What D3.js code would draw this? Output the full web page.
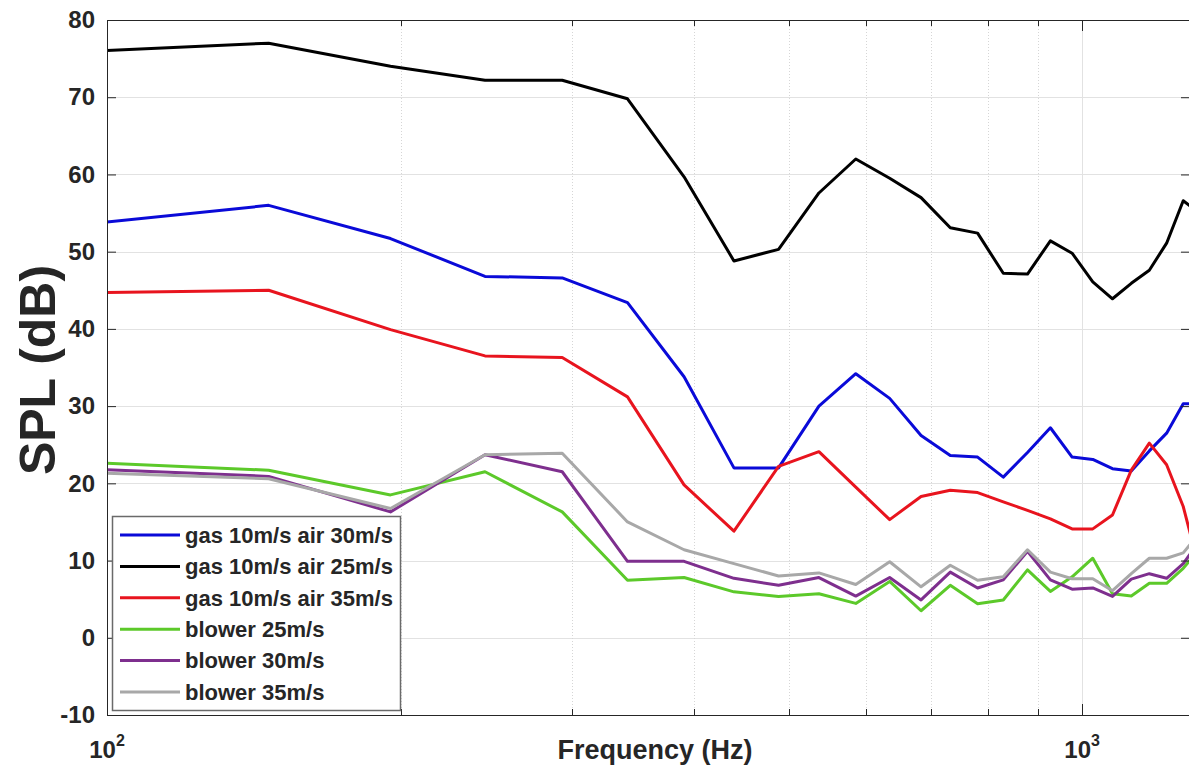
<!DOCTYPE html>
<html>
<head>
<meta charset="utf-8">
<script src="https://cdn.jsdelivr.net/npm/d3@7"></script>
<style>
  body { margin: 0; background: #fff; }
  text { font-family: "Liberation Sans", Arial, sans-serif; font-weight: bold; fill: #262626; }
</style>
</head>
<body>
<script>
// FFT bin centre frequencies (Hz)
const freqs = [97.66, 146.48, 195.31, 244.14, 292.97, 341.80, 390.63, 439.45, 488.28, 537.11,
  585.94, 634.77, 683.59, 732.42, 781.25, 830.08, 878.91, 927.73, 976.56, 1025.39,
  1074.22, 1123.05, 1171.88, 1220.70, 1269.53, 1318.36];

const gasAir30 = [53.7, 56.0, 51.7, 46.8, 46.6, 43.4, 33.8, 22.0, 22.0, 30.0,
  34.2, 31.0, 26.2, 23.6, 23.4, 20.8, 24.0, 27.2, 23.4, 23.1,
  21.9, 21.6, 24.2, 26.5, 30.3, 30.3];
const gasAir25 = [76.0, 77.0, 74.0, 72.2, 72.2, 69.8, 59.7, 48.8, 50.3, 57.6,
  62.0, 59.5, 57.0, 53.1, 52.4, 47.2, 47.1, 51.4, 49.8, 46.1,
  43.9, 45.9, 47.6, 51.1, 56.6, 55.0];
const gasAir35 = [44.7, 45.0, 39.9, 36.5, 36.3, 31.2, 19.8, 13.8, 22.2, 24.1,
  19.5, 15.3, 18.3, 19.1, 18.8, 17.6, 16.5, 15.4, 14.1, 14.1,
  15.9, 21.7, 25.2, 22.4, 17.0, 9.0];
const blower25 = [22.65, 21.7, 18.5, 21.5, 16.3, 7.45, 7.8, 5.95, 5.35, 5.7,
  4.45, 7.3, 3.5, 6.8, 4.4, 4.9, 8.8, 6.0, 7.9, 10.3,
  5.7, 5.4, 7.05, 7.05, 9.0, 11.5];
const blower30 = [21.8, 20.9, 16.3, 23.7, 21.5, 9.9, 9.9, 7.7, 6.8, 7.8,
  5.4, 7.8, 4.9, 8.5, 6.45, 7.5, 11.2, 7.5, 6.3, 6.45,
  5.35, 7.6, 8.3, 7.7, 9.6, 12.5];
const blower35 = [21.35, 20.6, 16.75, 23.7, 23.9, 15.0, 11.4, 9.6, 8.0, 8.4,
  6.9, 9.85, 6.6, 9.4, 7.45, 7.9, 11.4, 8.5, 7.65, 7.65,
  6.1, 8.3, 10.3, 10.3, 11.0, 13.5];

const seriesNames = ["gas 10m/s air 30m/s", "gas 10m/s air 25m/s", "gas 10m/s air 35m/s",
  "blower 25m/s", "blower 30m/s", "blower 35m/s"];
const seriesColors = ["#0a0ad8", "#000000", "#e8141e", "#5cc92a", "#7e2f8e", "#a8a8a8"];
const seriesValues = [gasAir30, gasAir25, gasAir35, blower25, blower30, blower35];

const yTicks = [-10, 0, 10, 20, 30, 40, 50, 60, 70, 80];
const xMinorTicks = [200, 300, 400, 500, 600, 700, 800, 900];
const xMajorTicks = [100, 1000];
const xMajorExp = ["2", "3"];

const width = 1189, height = 767;
const plot = {left: 107, right: 1190, top: 20, bottom: 715};

const x = d3.scaleLog().domain([100, 1290]).range([plot.left, plot.right]);
const y = d3.scaleLinear().domain([-10, 80]).range([plot.bottom, plot.top]);

const svg = d3.select("body").append("svg")
  .attr("width", width)
  .attr("height", height)
  .attr("viewBox", [0, 0, width, height]);

svg.append("defs").append("clipPath")
  .attr("id", "plot-clip")
  .append("rect")
  .attr("x", plot.left).attr("y", plot.top)
  .attr("width", plot.right - plot.left).attr("height", plot.bottom - plot.top);

// grid
const grid = svg.append("g");
grid.selectAll("line.hgrid")
  .data(yTicks)
  .join("line")
  .attr("class", "hgrid")
  .attr("x1", plot.left).attr("x2", plot.right)
  .attr("y1", d => Math.round(y(d)) + 0.5).attr("y2", d => Math.round(y(d)) + 0.5)
  .attr("stroke", "#e2e2e2");
grid.selectAll("line.vminor")
  .data(xMinorTicks)
  .join("line")
  .attr("class", "vminor")
  .attr("x1", d => Math.round(x(d)) + 0.5).attr("x2", d => Math.round(x(d)) + 0.5)
  .attr("y1", plot.top).attr("y2", plot.bottom)
  .attr("stroke", "#d6d6d6")
  .attr("stroke-dasharray", "1,2");
grid.selectAll("line.vmajor")
  .data([1000])
  .join("line")
  .attr("class", "vmajor")
  .attr("x1", d => Math.round(x(d)) + 0.5).attr("x2", d => Math.round(x(d)) + 0.5)
  .attr("y1", plot.top).attr("y2", plot.bottom)
  .attr("stroke", "#e2e2e2");

// series
const line = d3.line()
  .x(d => x(d[0]))
  .y(d => y(d[1]));

svg.append("g")
  .attr("clip-path", "url(#plot-clip)")
  .selectAll("path")
  .data(seriesValues)
  .join("path")
  .attr("fill", "none")
  .attr("stroke", (d, i) => seriesColors[i])
  .attr("stroke-width", 3)
  .attr("stroke-linejoin", "round")
  .attr("d", vals => line(freqs.map((f, i) => [f, vals[i]])));

// axes
const yAxisL = d3.axisLeft(y).tickValues(yTicks).tickSize(-9).tickSizeOuter(0).tickPadding(12)
  .tickFormat(d => String(d));
const yAxisR = d3.axisRight(y).tickValues(yTicks).tickSize(-9).tickSizeOuter(0).tickFormat("");

svg.append("g")
  .attr("transform", `translate(${plot.left},0)`)
  .call(yAxisL)
  .call(g => g.select(".domain").remove())
  .call(g => g.selectAll(".tick line").attr("stroke", "#262626"))
  .call(g => g.selectAll(".tick text")
    .attr("font-size", 24)
    .attr("fill", "#262626")
    .style("font-family", "'Liberation Sans', Arial, sans-serif")
    .style("font-weight", "bold"));

svg.append("g")
  .attr("transform", `translate(${plot.right},0)`)
  .call(yAxisR)
  .call(g => g.select(".domain").remove())
  .call(g => g.selectAll(".tick line").attr("stroke", "#262626"));

const xTickGroup = svg.append("g").attr("stroke", "#262626");
[[plot.bottom, -1], [plot.top, 1]].forEach(([yy, dir]) => {
  xTickGroup.append("g").selectAll("line")
    .data(xMinorTicks)
    .join("line")
    .attr("x1", d => Math.round(x(d)) + 0.5).attr("x2", d => Math.round(x(d)) + 0.5)
    .attr("y1", yy).attr("y2", yy + dir * 6);
  xTickGroup.append("g").selectAll("line")
    .data([1000])
    .join("line")
    .attr("x1", d => Math.round(x(d)) + 0.5).attr("x2", d => Math.round(x(d)) + 0.5)
    .attr("y1", yy).attr("y2", yy + dir * 11);
});

// box
svg.append("rect")
  .attr("x", plot.left + 0.5).attr("y", plot.top + 0.5)
  .attr("width", plot.right - plot.left).attr("height", plot.bottom - plot.top)
  .attr("fill", "none")
  .attr("stroke", "#262626")
  .attr("stroke-width", 1);

// x tick labels (powers of ten)
const xLabels = svg.append("g").selectAll("text")
  .data(xMajorTicks)
  .join("text")
  .attr("x", d => x(d))
  .attr("y", 758)
  .attr("text-anchor", "middle")
  .attr("font-size", 24);
xLabels.append("tspan").text("10");
xLabels.append("tspan")
  .attr("font-size", 16)
  .attr("dy", -12)
  .text((d, i) => xMajorExp[i]);

// axis titles
svg.append("text")
  .attr("x", 655)
  .attr("y", 759)
  .attr("text-anchor", "middle")
  .attr("font-size", 27)
  .text("Frequency (Hz)");

svg.append("text")
  .attr("transform", `translate(55,370) rotate(-90)`)
  .attr("text-anchor", "middle")
  .attr("font-size", 50)
  .text("SPL (dB)");

// legend
const legend = svg.append("g");
legend.append("rect")
  .attr("x", 112.5).attr("y", 516.5)
  .attr("width", 288).attr("height", 194)
  .attr("fill", "#fff")
  .attr("stroke", "#6a6a6a")
  .attr("stroke-width", 1.5);

const rows = legend.selectAll("g.row")
  .data(seriesNames)
  .join("g")
  .attr("class", "row")
  .attr("transform", (d, i) => `translate(0,${535 + i * 31.4})`);
rows.append("line")
  .attr("x1", 120).attr("x2", 180)
  .attr("stroke", (d, i) => seriesColors[i])
  .attr("stroke-width", 3);
rows.append("text")
  .attr("x", 185)
  .attr("dy", "0.35em")
  .attr("font-size", 22)
  .text(d => d);
</script>
</body>
</html>
